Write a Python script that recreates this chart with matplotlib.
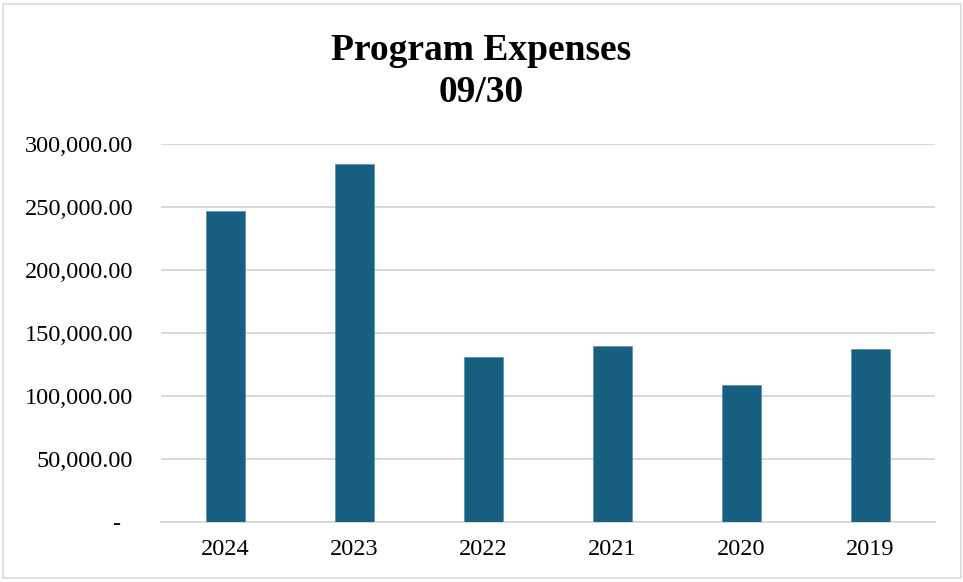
import matplotlib
matplotlib.use("Agg")
import matplotlib.pyplot as plt
from matplotlib.patches import Rectangle
from matplotlib.ticker import FuncFormatter

# program expenses by fiscal year (ending 09/30)
years = ["2024", "2023", "2022", "2021", "2020", "2019"]
expenses = [247100, 284100, 130800, 139800, 108600, 137400]

plt.rcParams['font.family'] = ['Liberation Serif', 'DejaVu Serif']

fig = plt.figure(figsize=(9.63, 5.82), dpi=100)
ax = fig.add_axes([161 / 963, 1 - 522.3 / 582, (935 - 161) / 963, (522.3 - 144) / 582])

# light frame around the whole chart
fig.patches.append(Rectangle((3 / 963, 4 / 582), 958 / 963, 574 / 582, transform=fig.transFigure,
                             fill=False, edgecolor='#d9d9d9', linewidth=1.2))

x = range(len(years))
ax.bar(x, expenses, width=0.31, color='#175f80', edgecolor='#4f86a0', linewidth=0.4, zorder=3)

ax.set_xlim(-0.5, len(years) - 0.5)
ax.set_ylim(0, 300000)
ax.set_yticks(range(0, 300001, 50000))


def money(v, pos):
    if v == 0:
        return "-  "
    return "{:,.2f}".format(v)


ax.yaxis.set_major_formatter(FuncFormatter(money))
ax.set_xticks(list(x))
ax.set_xticklabels(years)

ax.grid(axis='y', color='#d9d9d9', linewidth=1.4, zorder=0)
for side in ['top', 'right', 'left']:
    ax.spines[side].set_visible(False)
ax.spines['bottom'].set_color('#d9d9d9')
ax.spines['bottom'].set_linewidth(1.4)
ax.tick_params(axis='both', length=0, labelsize=17.5, colors='black')
ax.tick_params(axis='y', pad=20)
ax.tick_params(axis='x', pad=12)

fig.text(0.5, 1 - 50 / 582, "Program Expenses", ha='center', va='center',
         fontsize=27, fontweight='bold')
fig.text(0.5, 1 - 93 / 582, "09/30", ha='center', va='center',
         fontsize=27, fontweight='bold')

fig.savefig("out.png", dpi=100)
